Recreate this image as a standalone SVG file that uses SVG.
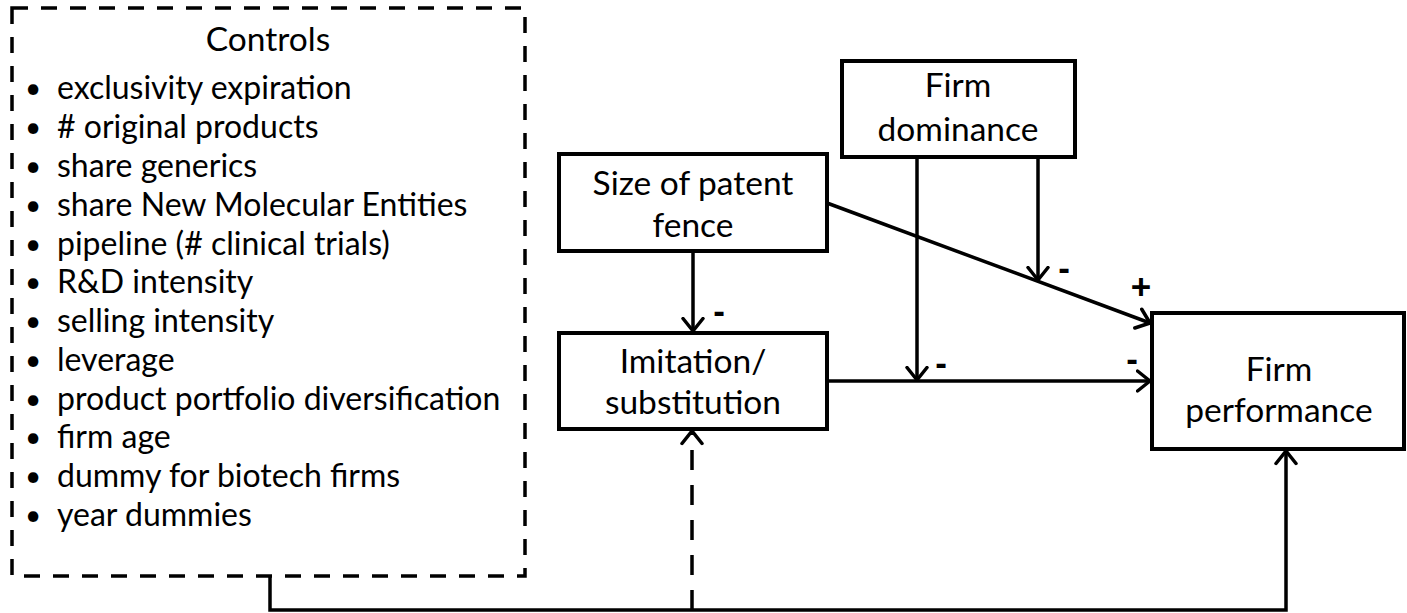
<svg xmlns="http://www.w3.org/2000/svg" width="1407" height="613" viewBox="0 0 1407 613">
<style>
.box{fill:#fff;stroke:#000;stroke-width:4}
.dbox{fill:none;stroke:#000;stroke-width:3.5;stroke-dasharray:16 13}
.t{font-family:Lato,"Liberation Sans",sans-serif;font-size:32px;fill:#000}
.n{font-family:Lato,"Liberation Sans",sans-serif;font-size:33.5px;fill:#000;text-anchor:middle}
.b{font-size:28px}
.s{font-family:"Liberation Sans",sans-serif;font-size:35px;font-weight:bold;fill:#000;text-anchor:middle}
.ln{fill:none;stroke:#000;stroke-width:3.5}
.dl{fill:none;stroke:#000;stroke-width:3.5;stroke-dasharray:20 15}
</style>
<defs>
<marker id="ah" markerUnits="userSpaceOnUse" viewBox="0 0 16 24" refX="14.5" refY="12" markerWidth="16" markerHeight="24" orient="auto">
<path d="M2,2 L14.5,12 L2,22" fill="none" stroke="#000" stroke-width="3.5" stroke-linecap="round" stroke-linejoin="round"/>
</marker>
</defs>
<g id="controls">
<rect class="dbox" x="12" y="8" width="513" height="568"/>
<text class="n" x="268" y="51">Controls</text>
<g class="t">
<text class="b" x="25" y="98">•</text><text x="57" y="99">exclusivity expiration</text>
<text class="b" x="25" y="137">•</text><text x="57" y="138"># original products</text>
<text class="b" x="25" y="176">•</text><text x="57" y="177">share generics</text>
<text class="b" x="25" y="215">•</text><text x="57" y="216">share New Molecular Entities</text>
<text class="b" x="25" y="254">•</text><text x="57" y="255">pipeline (# clinical trials)</text>
<text class="b" x="25" y="292">•</text><text x="57" y="293">R&amp;D intensity</text>
<text class="b" x="25" y="331">•</text><text x="57" y="332">selling intensity</text>
<text class="b" x="25" y="370">•</text><text x="57" y="371">leverage</text>
<text class="b" x="25" y="409">•</text><text x="57" y="410">product portfolio diversification</text>
<text class="b" x="25" y="447">•</text><text x="57" y="448">firm age</text>
<text class="b" x="25" y="486">•</text><text x="57" y="487">dummy for biotech firms</text>
<text class="b" x="25" y="525">•</text><text x="57" y="526">year dummies</text>
</g>
</g>
<g id="patent">
<rect class="box" x="559" y="154" width="268" height="97"/>
<text class="n" x="693" y="195">Size of patent</text>
<text class="n" x="693" y="237">fence</text>
</g>
<g id="dominance">
<rect class="box" x="842" y="61" width="233" height="96"/>
<text class="n" x="958" y="97">Firm</text>
<text class="n" x="958" y="141">dominance</text>
</g>
<g id="imitation">
<rect class="box" x="559" y="333" width="268" height="96"/>
<text class="n" x="693" y="373">Imitation/</text>
<text class="n" x="693" y="414">substitution</text>
</g>
<g id="performance">
<rect class="box" x="1152" y="313" width="252" height="136"/>
<text class="n" x="1279" y="381">Firm</text>
<text class="n" x="1279" y="422">performance</text>
</g>
<g id="connectors">
<line class="ln" x1="693" y1="251" x2="693" y2="331" marker-end="url(#ah)"/>
<line class="ln" x1="827" y1="203" x2="1150" y2="323" marker-end="url(#ah)"/>
<line class="ln" x1="827" y1="381" x2="1150" y2="381" marker-end="url(#ah)"/>
<line class="ln" x1="917" y1="157" x2="917" y2="380" marker-end="url(#ah)"/>
<line class="ln" x1="1038" y1="157" x2="1038" y2="280" marker-end="url(#ah)"/>
<path class="ln" d="M270,576 V610 H1286 V451" marker-end="url(#ah)"/>
<line class="dl" x1="692" y1="610" x2="692" y2="431" marker-end="url(#ah)"/>
<text class="s" x="719" y="323">-</text>
<text class="s" x="1064" y="280">-</text>
<text class="s" x="1141" y="299">+</text>
<text class="s" x="941" y="375">-</text>
<text class="s" x="1132" y="371">-</text>
</g>
</svg>
